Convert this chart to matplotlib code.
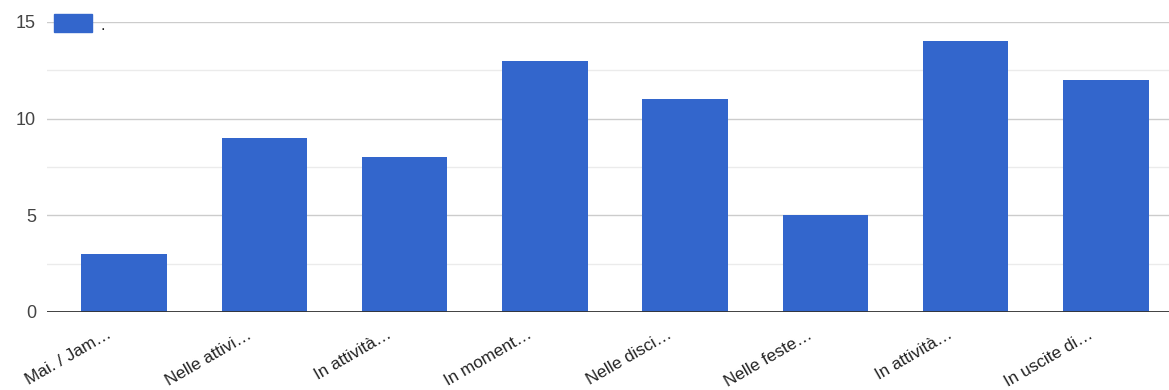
import matplotlib.pyplot as plt
from matplotlib.ticker import MultipleLocator
from matplotlib.patches import Rectangle
import matplotlib.transforms as mtransforms

labels = ['Mai. / Jam…', 'Nelle attivi…', 'In attività…', 'In moment…',
          'Nelle disci…', 'Nelle feste…', 'In attività…', 'In uscite di…']
values = [3, 9, 8, 13, 11, 5, 14, 12]

blue = '#3366cc'
plt.rcParams['font.family'] = ['Liberation Sans', 'DejaVu Sans']

fig = plt.figure(figsize=(11.69, 3.9), dpi=100)
ax = fig.add_axes([47 / 1169, 1 - 312 / 390, 1 - 47 / 1169, (312 - 22) / 390])

x = range(len(values))
ax.bar(x, values, width=0.61, color=blue, zorder=3)

ax.set_xlim(-0.55, 7.45)
ax.set_ylim(0, 15)
ax.yaxis.set_major_locator(MultipleLocator(5))
ax.yaxis.set_minor_locator(MultipleLocator(2.5))
ax.grid(axis='y', which='major', color='#cccccc', lw=1, zorder=0)
ax.grid(axis='y', which='minor', color='#ebebeb', lw=1, zorder=0)
ax.axhline(0, color='#333333', lw=1.3, zorder=4)

for s in ax.spines.values():
    s.set_visible(False)
ax.tick_params(axis='y', which='both', length=0, labelsize=13, labelcolor='#444444', pad=8)
ax.tick_params(axis='x', length=0, labelsize=12.3, labelcolor='#222222')

ax.set_xticks(list(x))
ax.set_xticklabels(labels, rotation=30, ha='right', rotation_mode='anchor')
offset = mtransforms.ScaledTranslation(-0.18, -0.10, fig.dpi_scale_trans)
for t in ax.get_xticklabels():
    t.set_transform(t.get_transform() + offset)

# legend swatch with a single dot as its label
fig.patches.append(Rectangle((54 / 1169, 1 - 32 / 390), 38 / 1169, 18 / 390,
                             transform=fig.transFigure, color=blue, zorder=5))
fig.text(101 / 1169, 1 - 30 / 390, '.', fontsize=12, color='#222222')

fig.savefig('out.png', dpi=100)
